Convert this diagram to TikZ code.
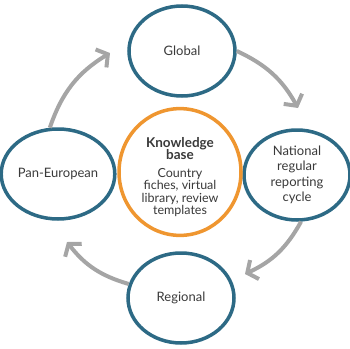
\documentclass[tikz,border=0pt]{standalone}
\usepackage{fontspec}
\setmainfont{Lato}
\usetikzlibrary{arrows.meta,shapes.geometric}
\definecolor{ringblue}{HTML}{2D6A85}
\definecolor{ringorange}{HTML}{EF9630}
\definecolor{arrowgray}{HTML}{A5A5A5}
\definecolor{textgray}{HTML}{3A3A3A}
\newcommand{\kbtitle}[1]{{\fontsize{13.5}{12.5}\selectfont\bfseries #1}}
\begin{document}
\begin{tikzpicture}[x=1pt,y=-1pt,
  stage/.style={ellipse,draw=ringblue,line width=3.5pt,fill=white,inner sep=0pt,
    minimum width=106pt,minimum height=90pt,align=center,text=textgray,
    font=\fontsize{13}{15.5}\selectfont},
  kbase/.style={ellipse,draw=ringorange,line width=3.5pt,fill=white,inner sep=0pt,
    minimum width=122pt,minimum height=106pt,align=center,text=textgray,
    font=\fontsize{12.5}{12.5}\selectfont},
  cyclearrow/.style={draw=arrowgray,line width=4pt,
    -{Straight Barb[length=8pt,width=21pt,line width=4pt]}}
]
\useasboundingbox (0,0) rectangle (350,348);
\node[stage] (glob) at (182,51) {Global};
\node[stage] (pan) at (58,174) {Pan-European};
\node[stage] (nat) at (297,175) {National\\regular\\reporting\\cycle};
\node[stage] (reg) at (181,298) {Regional};
\node[kbase] (kb) at (180,172) {\kbtitle{\rule{0pt}{20pt}Knowledge}\\\kbtitle{base}\\[5pt]Country\\fiches, virtual\\library, review\\templates};
\coordinate (t1) at (298,108);
\coordinate (t2) at (245,274);
\coordinate (t3) at (67,242);
\coordinate (t4) at (110,53);
\draw[cyclearrow] (glob.east) to[bend left=18] (t1);
\draw[cyclearrow] (nat.-85) to[bend left=18] (t2);
\draw[cyclearrow] (reg.165) to[bend left=18] (t3);
\draw[cyclearrow] (pan.100) to[bend left=20] (t4);
\end{tikzpicture}
\end{document}
